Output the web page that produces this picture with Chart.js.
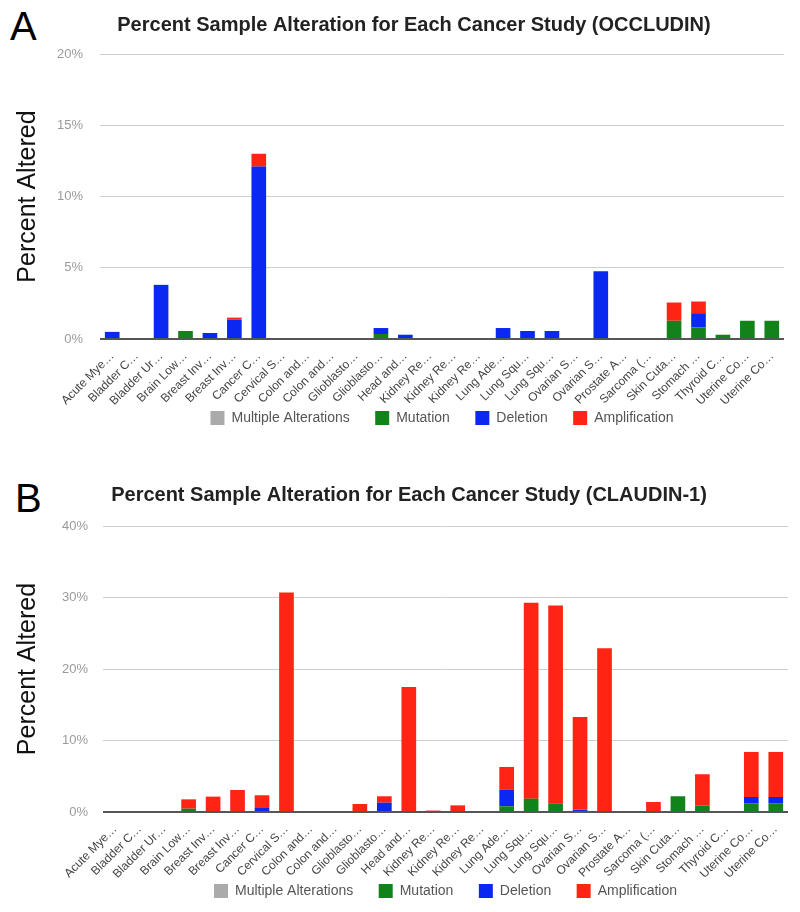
<!DOCTYPE html>
<html>
<head>
<meta charset="utf-8">
<script src="https://cdn.jsdelivr.net/npm/chart.js@4/dist/chart.umd.min.js"></script>
<style>
  body { margin: 0; background: #fff; width: 800px; height: 912px; overflow: hidden; position: relative; font-family: "Liberation Sans", Arial, sans-serif; }
  .panel { position: absolute; left: 0; width: 800px; }
  #panelA { top: 0; height: 435px; }
  #panelB { top: 448px; height: 460px; }
  .letter { position: absolute; font-size: 40px; line-height: 1; color: #000; }
</style>
</head>
<body>
<div class="letter" style="left:10px;top:6px">A</div>
<div class="letter" style="left:15px;top:478px">B</div>
<div class="panel" id="panelA"><canvas id="chartA"></canvas></div>
<div class="panel" id="panelB"><canvas id="chartB"></canvas></div>
<script>
// ===== data =====
const categories = ["Acute Mye…", "Bladder C…", "Bladder Ur…", "Brain Low…", "Breast Inv…", "Breast Inv…",
  "Cancer C…", "Cervical S…", "Colon and…", "Colon and…", "Glioblasto…", "Glioblasto…", "Head and…",
  "Kidney Re…", "Kidney Re…", "Kidney Re…", "Lung Ade…", "Lung Squ…", "Lung Squ…", "Ovarian S…",
  "Ovarian S…", "Prostate A…", "Sarcoma (…", "Skin Cuta…", "Stomach …", "Thyroid C…", "Uterine Co…", "Uterine Co…"];

// OCCLUDIN (%)
const occludinMultiple     = [0, 0, 0, 0, 0, 0, 0, 0, 0, 0, 0, 0, 0, 0, 0, 0, 0, 0, 0, 0, 0, 0, 0, 0, 0, 0, 0, 0];
const occludinMutation     = [0, 0, 0, 0.56, 0, 0, 0, 0, 0, 0, 0, 0.35, 0, 0, 0, 0, 0, 0, 0, 0, 0, 0, 0, 1.28, 0.81, 0.3, 1.28, 1.28];
const occludinDeletion     = [0.5, 0, 3.8, 0, 0.42, 1.35, 12.1, 0, 0, 0, 0, 0.42, 0.3, 0, 0, 0, 0.77, 0.56, 0.56, 0, 4.75, 0, 0, 0, 1.0, 0, 0, 0];
const occludinAmplification= [0, 0, 0, 0, 0, 0.15, 0.9, 0, 0, 0, 0, 0, 0, 0, 0, 0, 0, 0, 0, 0, 0, 0, 0, 1.28, 0.82, 0, 0, 0];

// CLAUDIN-1 (%)
const claudinMultiple      = [0, 0, 0, 0, 0, 0, 0, 0, 0, 0, 0, 0, 0, 0, 0, 0, 0, 0, 0, 0, 0, 0, 0, 0, 0, 0, 0, 0];
const claudinMutation      = [0, 0, 0, 0.47, 0, 0, 0, 0, 0, 0, 0, 0, 0, 0, 0, 0, 0.8, 1.87, 1.17, 0, 0, 0, 0, 2.2, 0.93, 0, 1.17, 1.17];
const claudinDeletion      = [0, 0, 0, 0, 0, 0, 0.56, 0, 0, 0, 0, 1.3, 0, 0, 0, 0, 2.3, 0, 0, 0.3, 0, 0, 0, 0, 0, 0, 0.93, 0.93];
const claudinAmplification = [0, 0, 0, 1.3, 2.15, 3.08, 1.78, 30.7, 0, 0, 1.12, 0.9, 17.5, 0.2, 0.93, 0, 3.2, 27.4, 27.7, 13.0, 22.9, 0, 1.4, 0, 4.35, 0, 6.3, 6.3];

const seriesNames = ["Multiple Alterations", "Mutation", "Deletion", "Amplification"];
const seriesColors = ["#aaaaaa", "#12821a", "#0a28f0", "#ff2414"];

const occludinTicks = [0, 5, 10, 15, 20];
const claudinTicks = [0, 10, 20, 30, 40];

// ===== title drawn at its own spot (centred a bit left of the plot) =====
const panelTitle = {
  id: 'panelTitle',
  afterDraw(chart, args, opts) {
    const ctx = chart.ctx;
    ctx.save();
    ctx.font = 'bold 20px "Liberation Sans", Arial, sans-serif';
    ctx.fillStyle = '#222';
    ctx.textAlign = 'center';
    ctx.textBaseline = 'middle';
    ctx.fillText(opts.text, opts.x, opts.y);
    ctx.restore();
  }
};

// legend padding is small (so it sits close under the labels),
// some no-break spaces after each entry give the wider gap between entries
function legendLabels(chart) {
  const items = Chart.defaults.plugins.legend.labels.generateLabels(chart);
  items.forEach((it, i) => {
    if (i < items.length - 1) it.text = it.text + '\u00a0\u00a0\u00a0\u00a0\u00a0';
  });
  return items;
}

function makeChart(canvasId, seriesData, tickValues, cfg) {
  const datasets = seriesData.map((d, i) => ({
    label: seriesNames[i],
    data: d,
    backgroundColor: seriesColors[i],
    borderWidth: 0,
    categoryPercentage: 1,
    barPercentage: 0.6
  }));

  return new Chart(document.getElementById(canvasId), {
    type: 'bar',
    data: { labels: categories, datasets: datasets },
    plugins: [panelTitle],
    options: {
      responsive: true,
      maintainAspectRatio: false,
      animation: false,
      layout: { padding: { left: 11, right: cfg.padRight, top: cfg.padTop, bottom: 0 } },
      scales: {
        x: {
          stacked: true,
          grid: { display: false },
          border: { display: false },
          ticks: {
            autoSkip: false, maxRotation: 45, minRotation: 45, padding: 2,
            color: '#444',
            font: { family: '"Liberation Sans", Arial, sans-serif', size: 12 }
          },
          afterFit: (scale) => { scale.height = cfg.xHeight; }
        },
        y: {
          stacked: true,
          min: 0,
          max: tickValues[tickValues.length - 1],
          afterBuildTicks: (scale) => { scale.ticks = tickValues.map(v => ({ value: v })); },
          grid: {
            drawTicks: false,
            color: (ctx) => ctx.tick && ctx.tick.value === 0 ? '#555' : '#cfcfcf',
            lineWidth: (ctx) => ctx.tick && ctx.tick.value === 0 ? 2 : 1
          },
          border: { display: false },
          ticks: {
            padding: cfg.tickPad,
            color: '#9a9a9a',
            font: { family: '"Liberation Sans", Arial, sans-serif', size: 13 },
            callback: (v) => v + '%'
          },
          title: {
            display: true,
            text: 'Percent Altered',
            color: '#111',
            padding: { top: 2, bottom: 2 },
            font: { family: '"Liberation Sans", Arial, sans-serif', size: 25 }
          },
          afterFit: (scale) => { scale.width = cfg.yWidth; }
        }
      },
      plugins: {
        panelTitle: { text: cfg.title, x: cfg.titleX, y: cfg.titleY },
        legend: {
          position: 'bottom',
          fullSize: false,
          labels: {
            boxWidth: 14, boxHeight: 14, padding: 6,
            color: '#555',
            font: { family: '"Liberation Sans", Arial, sans-serif', size: 14 },
            generateLabels: legendLabels
          }
        },
        tooltip: { enabled: false }
      }
    }
  });
}

makeChart('chartA',
  [occludinMultiple, occludinMutation, occludinDeletion, occludinAmplification],
  occludinTicks,
  { title: 'Percent Sample Alteration for Each Cancer Study (OCCLUDIN)', titleX: 414, titleY: 25,
    padTop: 54, padRight: 16, yWidth: 89, tickPad: 17, xHeight: 66 });

makeChart('chartB',
  [claudinMultiple, claudinMutation, claudinDeletion, claudinAmplification],
  claudinTicks,
  { title: 'Percent Sample Alteration for Each Cancer Study (CLAUDIN-1)', titleX: 409, titleY: 47,
    padTop: 78, padRight: 12, yWidth: 92, tickPad: 15, xHeight: 66 });
</script>
</body>
</html>
